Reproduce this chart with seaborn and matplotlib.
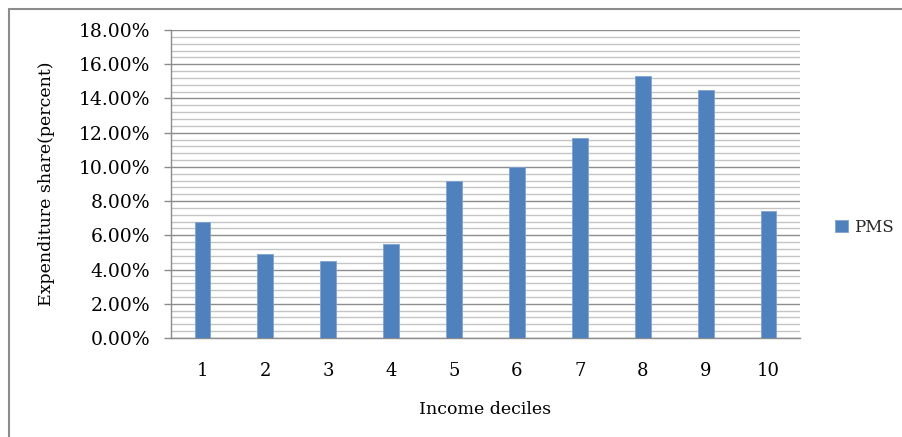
import matplotlib
matplotlib.use("Agg")
import matplotlib.pyplot as plt
from matplotlib.lines import Line2D
from matplotlib.ticker import MultipleLocator, FuncFormatter
import pandas as pd
import seaborn as sns

# Expenditure share on PMS by income decile (percent)
deciles = ["1", "2", "3", "4", "5", "6", "7", "8", "9", "10"]
pms_share = [6.8, 4.9, 4.5, 5.5, 9.2, 10.0, 11.7, 15.3, 14.5, 7.4]
series_name = "PMS"
y_ticks = [0, 2, 4, 6, 8, 10, 12, 14, 16, 18]

df = pd.DataFrame({"decile": deciles, "share": pms_share})

sns.set_theme(style="white")
plt.rcParams["font.family"] = ["DejaVu Serif"]

W, H = 902, 437
fig = plt.figure(figsize=(W / 100, H / 100), dpi=100)
left, right, top, bottom = 171, 800, 30, 338
ax = fig.add_axes([left / W, (H - bottom) / H, (right - left) / W, (bottom - top) / H])

bar_color = "#4F81BD"
sns.barplot(data=df, x="decile", y="share", color=bar_color, width=0.25,
            saturation=1, label=series_name, ax=ax, edgecolor="#7FA3D0",
            linewidth=0.6, zorder=3)

ax.set_ylim(0, 18)
ax.set_xlim(-0.5, len(deciles) - 0.5)
ax.set_yticks(y_ticks)
ax.yaxis.set_minor_locator(MultipleLocator(0.4))
ax.yaxis.set_major_formatter(FuncFormatter(lambda v, p: f"{v:.2f}%"))

ax.grid(False)
ax.grid(axis="y", which="minor", color="#c4c4c4", linewidth=1.0, zorder=0)
ax.grid(axis="y", which="major", color="#8c8c8c", linewidth=1.0, zorder=1)
ax.set_axisbelow(True)

for side in ("top", "right"):
    ax.spines[side].set_visible(False)
for side in ("left", "bottom"):
    ax.spines[side].set_color("#8c8c8c")
    ax.spines[side].set_linewidth(1.0)

ax.tick_params(axis="y", which="major", direction="out", length=5, width=1,
               color="#8c8c8c", pad=10, labelsize=13.5, labelcolor="black", left=True)
ax.tick_params(axis="y", which="minor", length=0)
ax.tick_params(axis="x", length=0, pad=17, labelsize=13, labelcolor="black")

ax.set_xlabel("Income deciles", fontsize=12.5, color="black")
ax.xaxis.set_label_coords(0.499, -0.203)
ax.set_ylabel("Expenditure share(percent)", fontsize=12.5, color="black")
ax.yaxis.set_label_coords(-0.184, 0.5)

ax.legend(loc="center left", bbox_to_anchor=(835 / W, (H - 227) / H),
          bbox_transform=fig.transFigure, frameon=False, fontsize=12,
          handlelength=0.75, handleheight=0.75, handletextpad=0.4,
          borderaxespad=0, borderpad=0)

# Outer chart frame (top and left edges)
frame_kw = dict(color="#8c8c8c", linewidth=1.5, transform=fig.transFigure)
fig.add_artist(Line2D([9 / W, 1.0], [1 - 9 / H, 1 - 9 / H], **frame_kw))
fig.add_artist(Line2D([9 / W, 9 / W], [0.0, 1 - 9 / H], **frame_kw))

fig.savefig("out.png", dpi=100, facecolor="white")
